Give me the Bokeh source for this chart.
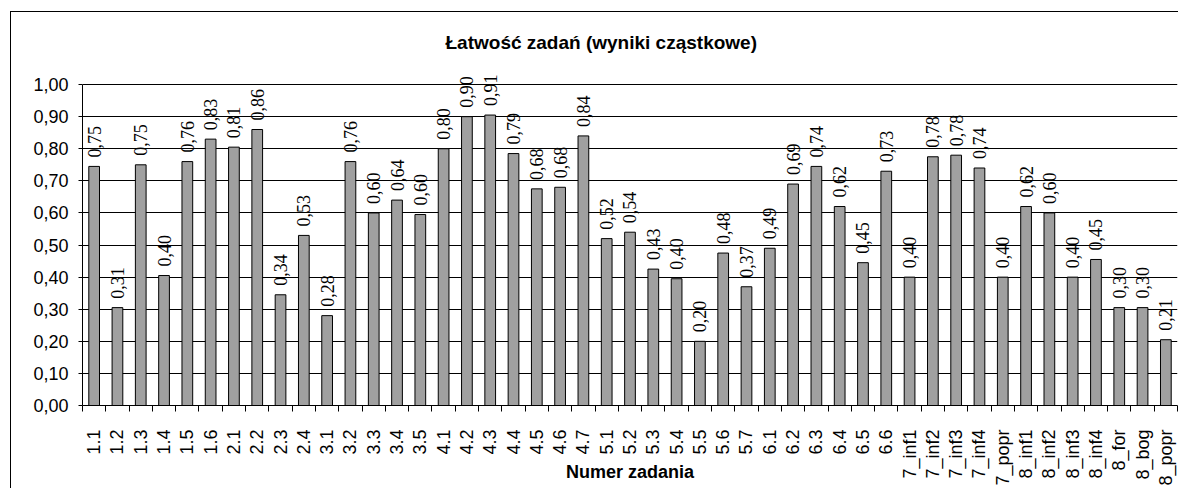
import math
from bokeh.plotting import figure
from bokeh.models import (ColumnDataSource, FixedTicker, CustomJSTickFormatter,
                          Range1d, Title, LabelSet, InlineStyleSheet)
from bokeh.embed import file_html
from bokeh.resources import INLINE

categories = ["1.1", "1.2", "1.3", "1.4", "1.5", "1.6", "2.1", "2.2", "2.3", "2.4",
              "3.1", "3.2", "3.3", "3.4", "3.5", "4.1", "4.2", "4.3", "4.4", "4.5",
              "4.6", "4.7", "5.1", "5.2", "5.3", "5.4", "5.5", "5.6", "5.7", "6.1",
              "6.2", "6.3", "6.4", "6.5", "6.6", "7_inf1", "7_inf2", "7_inf3", "7_inf4",
              "7_popr", "8_inf1", "8_inf2", "8_inf3", "8_inf4", "8_for", "8_bog", "8_popr"]
values = [0.745, 0.305, 0.75, 0.405, 0.76, 0.83, 0.805, 0.86, 0.345, 0.53,
          0.28, 0.76, 0.60, 0.64, 0.595, 0.80, 0.90, 0.905, 0.785, 0.675,
          0.68, 0.84, 0.52, 0.54, 0.425, 0.395, 0.20, 0.475, 0.37, 0.49,
          0.69, 0.745, 0.62, 0.445, 0.73, 0.40, 0.775, 0.78, 0.74, 0.40,
          0.62, 0.60, 0.40, 0.455, 0.305, 0.305, 0.205]
value_labels = ["0,75", "0,31", "0,75", "0,40", "0,76", "0,83", "0,81", "0,86", "0,34", "0,53",
                "0,28", "0,76", "0,60", "0,64", "0,60", "0,80", "0,90", "0,91", "0,79", "0,68",
                "0,68", "0,84", "0,52", "0,54", "0,43", "0,40", "0,20", "0,48", "0,37", "0,49",
                "0,69", "0,74", "0,62", "0,45", "0,73", "0,40", "0,78", "0,78", "0,74", "0,40",
                "0,62", "0,60", "0,40", "0,45", "0,30", "0,30", "0,21"]
y_ticks = [0.0, 0.1, 0.2, 0.3, 0.4, 0.5, 0.6, 0.7, 0.8, 0.9, 1.0]

pos = list(range(len(categories)))
src = ColumnDataSource(dict(x=pos, top=values, lab=value_labels))

FONT = "Liberation Sans"

p = figure(width=1178, height=488, output_backend="svg", toolbar_location=None,
           x_range=Range1d(-0.5, len(categories) - 0.5), y_range=Range1d(0, 1.075),
           min_border_left=82, min_border_right=1, min_border_top=60, min_border_bottom=83)
p.background_fill_color = "white"
p.border_fill_color = "white"
p.outline_line_color = None

t = Title(text="Łatwość zadań (wyniki cząstkowe)", align="left",
          text_font=FONT, text_font_size="19px", text_font_style="bold",
          text_color="black", standoff=16, offset=363)
p.add_layout(t, "above")

p.vbar(x="x", top="top", width=0.46, source=src, fill_color="#a0a0a0",
       line_color="black", line_width=1)
labels = LabelSet(x="x", y="top", text="lab", source=src, angle=math.pi / 2,
                  text_align="left", text_baseline="middle", y_offset=9,
                  text_font=FONT, text_font_size="18px", text_color="black")
p.add_layout(labels)

# y axis
p.yaxis.bounds = (0, 1)
p.yaxis.ticker = FixedTicker(ticks=y_ticks, minor_ticks=[])
p.yaxis.formatter = CustomJSTickFormatter(code="return tick.toFixed(2).replace('.', ',');")
p.yaxis.major_label_text_font = FONT
p.yaxis.major_label_text_font_size = "18px"
p.yaxis.major_label_text_color = "black"
p.yaxis.major_tick_out = 4
p.yaxis.major_tick_in = 0
p.yaxis.minor_tick_out = 0
p.yaxis.axis_line_color = "black"
p.yaxis.major_label_standoff = 10

p.ygrid.ticker = FixedTicker(ticks=y_ticks)
p.ygrid.grid_line_color = "black"
p.ygrid.grid_line_width = 1
p.xgrid.grid_line_color = None

# x axis
boundaries = [i - 0.5 for i in range(len(categories) + 1)]
p.xaxis.ticker = FixedTicker(ticks=pos, minor_ticks=boundaries)
p.xaxis.major_label_overrides = {i: c for i, c in enumerate(categories)}
p.xaxis.major_label_orientation = math.pi / 2
p.xaxis.major_label_text_font = FONT
p.xaxis.major_label_text_font_size = "18px"
p.xaxis.major_label_text_color = "black"
p.xaxis.major_tick_out = 0
p.xaxis.major_tick_in = 0
p.xaxis.minor_tick_out = 6
p.xaxis.minor_tick_in = 0
p.xaxis.minor_tick_line_color = "black"
p.xaxis.major_label_standoff = 18
p.xaxis.axis_line_color = "black"
p.xaxis.axis_label = "Numer zadania"
p.xaxis.axis_label_text_font = FONT
p.xaxis.axis_label_text_font_size = "18px"
p.xaxis.axis_label_text_font_style = "bold"
p.xaxis.axis_label_text_color = "black"
p.xaxis.axis_label_standoff = -27

p.stylesheets = [InlineStyleSheet(css="""
:host::after {
  content: "";
  position: absolute;
  left: 10px; top: 11px; width: 1200px; height: 520px;
  border: 1.5px solid black;
  pointer-events: none;
  box-sizing: border-box;
}
""")]

open("out.html", "w").write(file_html(p, INLINE))
